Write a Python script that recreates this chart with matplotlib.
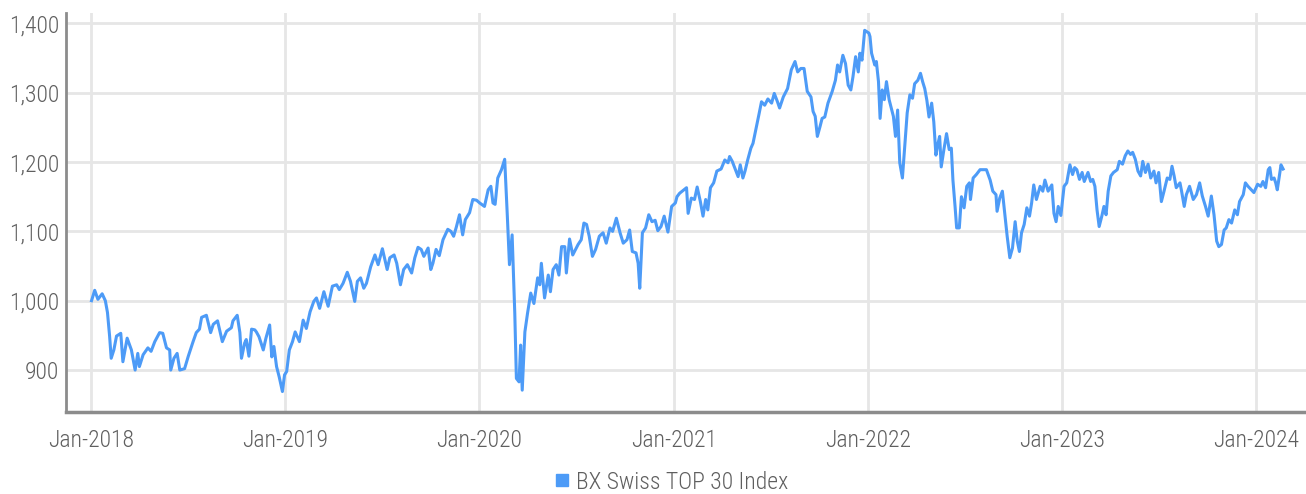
import matplotlib
matplotlib.use("Agg")
import matplotlib.pyplot as plt
import matplotlib.dates as mdates
from matplotlib.lines import Line2D
from matplotlib.ticker import FuncFormatter
import pandas as pd

plt.rcParams['font.family'] = ['Roboto Condensed', 'Fira Sans Condensed', 'DejaVu Sans']
plt.rcParams['font.weight'] = 300

series_name = "BX Swiss TOP 30 Index"

dates_2018 = ["2018-01-02", "2018-01-08", "2018-01-14", "2018-01-22", "2018-01-28", "2018-02-01", "2018-02-05",
              "2018-02-08", "2018-02-13", "2018-02-18", "2018-02-26", "2018-03-02", "2018-03-10", "2018-03-18",
              "2018-03-25", "2018-03-30", "2018-04-02", "2018-04-09", "2018-04-18", "2018-04-24", "2018-05-01",
              "2018-05-10", "2018-05-16", "2018-05-23", "2018-05-29", "2018-05-31", "2018-06-06", "2018-06-12",
              "2018-06-17", "2018-06-26", "2018-07-03", "2018-07-12", "2018-07-18", "2018-07-24", "2018-07-28",
              "2018-08-06", "2018-08-14", "2018-08-19", "2018-08-27", "2018-09-05", "2018-09-13", "2018-09-22",
              "2018-09-25", "2018-10-03", "2018-10-08", "2018-10-11", "2018-10-17", "2018-10-20", "2018-10-25",
              "2018-10-30", "2018-11-05", "2018-11-08", "2018-11-13", "2018-11-21", "2018-11-26", "2018-12-03",
              "2018-12-07", "2018-12-11", "2018-12-16", "2018-12-21", "2018-12-27", "2018-12-31"]
values_2018 = [1000, 1015, 1002, 1010, 1000, 983, 949,
               917, 929, 949, 953, 912, 946, 929,
               900, 924, 905, 922, 932, 927, 941,
               954, 953, 932, 929, 900, 917, 924,
               900, 902, 920, 941, 954, 959, 976,
               979, 954, 966, 971, 941, 956, 961,
               971, 979, 954, 917, 939, 944, 920,
               959, 958, 955, 948, 929, 946, 965,
               919, 934, 905, 890, 869, 893]

dates_2019 = ["2019-01-04", "2019-01-09", "2019-01-15", "2019-01-20", "2019-01-28", "2019-02-04", "2019-02-10",
              "2019-02-17", "2019-02-24", "2019-03-01", "2019-03-07", "2019-03-15", "2019-03-23", "2019-03-31",
              "2019-04-08", "2019-04-13", "2019-04-20", "2019-04-28", "2019-05-04", "2019-05-12", "2019-05-17",
              "2019-05-23", "2019-05-29", "2019-06-03", "2019-06-11", "2019-06-19", "2019-06-25", "2019-07-03",
              "2019-07-12", "2019-07-17", "2019-07-25", "2019-07-30", "2019-08-06", "2019-08-12", "2019-08-19",
              "2019-08-27", "2019-09-02", "2019-09-08", "2019-09-14", "2019-09-19", "2019-09-27", "2019-10-02",
              "2019-10-06", "2019-10-12", "2019-10-18", "2019-10-25", "2019-11-03", "2019-11-09", "2019-11-14",
              "2019-11-19", "2019-11-25", "2019-12-01", "2019-12-06", "2019-12-14", "2019-12-20", "2019-12-27"]
values_2019 = [898, 929, 941, 955, 941, 972, 960,
               984, 999, 1004, 989, 1013, 992, 1021,
               1023, 1016, 1025, 1041, 1028, 999, 1028,
               1033, 1018, 1025, 1049, 1066, 1052, 1075,
               1045, 1062, 1066, 1054, 1023, 1045, 1052,
               1040, 1062, 1077, 1074, 1064, 1076, 1045,
               1054, 1074, 1065, 1088, 1103, 1100, 1093,
               1106, 1124, 1095, 1117, 1127, 1146, 1145]

dates_2020 = ["2020-01-02", "2020-01-11", "2020-01-18", "2020-01-23", "2020-01-27", "2020-01-31", "2020-02-05",
              "2020-02-12", "2020-02-18", "2020-02-23", "2020-02-27", "2020-03-03", "2020-03-08", "2020-03-11",
              "2020-03-16", "2020-03-19", "2020-03-22", "2020-03-27", "2020-04-01", "2020-04-07", "2020-04-13",
              "2020-04-20", "2020-04-24", "2020-04-27", "2020-05-03", "2020-05-10", "2020-05-14", "2020-05-19",
              "2020-05-25", "2020-05-30", "2020-06-04", "2020-06-10", "2020-06-13", "2020-06-19", "2020-06-25",
              "2020-07-05", "2020-07-11", "2020-07-16", "2020-07-21", "2020-07-26", "2020-08-01", "2020-08-07",
              "2020-08-14", "2020-08-21", "2020-08-27", "2020-09-03", "2020-09-08", "2020-09-15", "2020-09-22",
              "2020-09-28", "2020-10-05", "2020-10-10", "2020-10-15", "2020-10-22", "2020-10-26", "2020-10-29",
              "2020-11-03", "2020-11-09", "2020-11-15", "2020-11-21", "2020-11-27", "2020-12-02", "2020-12-08",
              "2020-12-14", "2020-12-21", "2020-12-28"]
values_2020 = [1141, 1136, 1160, 1165, 1141, 1139, 1177,
               1189, 1204, 1122, 1052, 1095, 982, 888,
               883, 936, 871, 955, 982, 1011, 996,
               1033, 1023, 1054, 1004, 1037, 1013, 1045,
               1052, 1037, 1078, 1078, 1040, 1089, 1066,
               1081, 1088, 1112, 1110, 1093, 1064, 1074,
               1093, 1098, 1083, 1105, 1100, 1119, 1098,
               1083, 1088, 1102, 1071, 1069, 1054, 1018,
               1098, 1105, 1124, 1114, 1116, 1101, 1107,
               1122, 1099, 1136]

dates_2021 = ["2021-01-04", "2021-01-07", "2021-01-12", "2021-01-20", "2021-01-25", "2021-01-28", "2021-02-03",
              "2021-02-09", "2021-02-14", "2021-02-20", "2021-02-25", "2021-03-02", "2021-03-06", "2021-03-11",
              "2021-03-17", "2021-03-23", "2021-03-31", "2021-04-07", "2021-04-13", "2021-04-16", "2021-04-21",
              "2021-04-26", "2021-05-02", "2021-05-06", "2021-05-11", "2021-05-15", "2021-05-20", "2021-05-26",
              "2021-05-30", "2021-06-05", "2021-06-10", "2021-06-15", "2021-06-21", "2021-06-27", "2021-07-04",
              "2021-07-09", "2021-07-15", "2021-07-19", "2021-07-26", "2021-08-03", "2021-08-10", "2021-08-17",
              "2021-08-22", "2021-08-28", "2021-09-03", "2021-09-09", "2021-09-16", "2021-09-20", "2021-09-24",
              "2021-09-28", "2021-10-03", "2021-10-07", "2021-10-12", "2021-10-18", "2021-10-26", "2021-11-01",
              "2021-11-05", "2021-11-09", "2021-11-15", "2021-11-20", "2021-11-25", "2021-11-30", "2021-12-04",
              "2021-12-09", "2021-12-14", "2021-12-17", "2021-12-21", "2021-12-26"]
values_2021 = [1141, 1150, 1155, 1160, 1163, 1126, 1148,
               1146, 1164, 1143, 1122, 1146, 1131, 1163,
               1170, 1187, 1190, 1203, 1199, 1208, 1201,
               1191, 1179, 1196, 1177, 1187, 1203, 1220,
               1227, 1249, 1268, 1287, 1282, 1291, 1285,
               1299, 1287, 1278, 1294, 1306, 1333, 1345,
               1330, 1335, 1335, 1302, 1294, 1273, 1266,
               1237, 1251, 1263, 1265, 1285, 1302, 1318,
               1340, 1330, 1354, 1342, 1311, 1304, 1323,
               1352, 1330, 1357, 1347, 1390]

dates_2022 = ["2022-01-03", "2022-01-05", "2022-01-08", "2022-01-14", "2022-01-17", "2022-01-21", "2022-01-24",
              "2022-01-28", "2022-02-01", "2022-02-05", "2022-02-10", "2022-02-15", "2022-02-18", "2022-02-22",
              "2022-02-26", "2022-03-02", "2022-03-07", "2022-03-11", "2022-03-16", "2022-03-21", "2022-03-26",
              "2022-03-30", "2022-04-05", "2022-04-10", "2022-04-14", "2022-04-18", "2022-04-22", "2022-04-26",
              "2022-05-01", "2022-05-05", "2022-05-09", "2022-05-13", "2022-05-16", "2022-05-19", "2022-05-24",
              "2022-05-29", "2022-06-03", "2022-06-07", "2022-06-10", "2022-06-14", "2022-06-17", "2022-06-22",
              "2022-06-26", "2022-07-01", "2022-07-06", "2022-07-11", "2022-07-13", "2022-07-18", "2022-07-24",
              "2022-07-31", "2022-08-06", "2022-08-12", "2022-08-19", "2022-08-24", "2022-08-30", "2022-09-01",
              "2022-09-06", "2022-09-11", "2022-09-16", "2022-09-20", "2022-09-25", "2022-09-30", "2022-10-05",
              "2022-10-09", "2022-10-13", "2022-10-17", "2022-10-22", "2022-10-27", "2022-11-01", "2022-11-05",
              "2022-11-09", "2022-11-14", "2022-11-21", "2022-11-26", "2022-11-30", "2022-12-06", "2022-12-13",
              "2022-12-17", "2022-12-21", "2022-12-25", "2022-12-30"]
values_2022 = [1386, 1381, 1357, 1340, 1345, 1316, 1263,
               1304, 1290, 1316, 1290, 1275, 1266, 1237,
               1275, 1199, 1177, 1218, 1271, 1297, 1292,
               1313, 1318, 1328, 1316, 1306, 1289, 1265,
               1285, 1258, 1210, 1227, 1237, 1193, 1218,
               1241, 1218, 1220, 1174, 1136, 1105, 1105,
               1150, 1134, 1165, 1170, 1146, 1177, 1182,
               1189, 1189, 1189, 1174, 1158, 1153, 1129,
               1148, 1158, 1122, 1093, 1062, 1076, 1114,
               1086, 1071, 1098, 1110, 1134, 1122, 1141,
               1167, 1146, 1165, 1158, 1174, 1158, 1167,
               1126, 1114, 1136, 1123]

dates_2023 = ["2023-01-05", "2023-01-10", "2023-01-16", "2023-01-21", "2023-01-25", "2023-01-29", "2023-02-03",
              "2023-02-08", "2023-02-12", "2023-02-19", "2023-02-24", "2023-02-28", "2023-03-04", "2023-03-08",
              "2023-03-12", "2023-03-17", "2023-03-21", "2023-03-25", "2023-03-29", "2023-04-03", "2023-04-08",
              "2023-04-15", "2023-04-19", "2023-04-25", "2023-04-30", "2023-05-05", "2023-05-10", "2023-05-14",
              "2023-05-19", "2023-05-24", "2023-05-29", "2023-06-02", "2023-06-07", "2023-06-12", "2023-06-17",
              "2023-06-23", "2023-06-27", "2023-07-02", "2023-07-07", "2023-07-12", "2023-07-18", "2023-07-23",
              "2023-07-27", "2023-07-31", "2023-08-04", "2023-08-11", "2023-08-14", "2023-08-19", "2023-08-23",
              "2023-08-29", "2023-09-05", "2023-09-11", "2023-09-17", "2023-09-22", "2023-09-28", "2023-10-03",
              "2023-10-09", "2023-10-14", "2023-10-19", "2023-10-23", "2023-10-28", "2023-11-02", "2023-11-06",
              "2023-11-11", "2023-11-16", "2023-11-22", "2023-11-27", "2023-12-01", "2023-12-08", "2023-12-12",
              "2023-12-17", "2023-12-23", "2023-12-28"]
values_2023 = [1165, 1170, 1196, 1182, 1192, 1189, 1175,
               1185, 1172, 1185, 1172, 1175, 1165, 1131,
               1107, 1122, 1136, 1124, 1158, 1180, 1185,
               1189, 1201, 1197, 1209, 1216, 1211, 1214,
               1204, 1187, 1180, 1201, 1185, 1197, 1177,
               1187, 1170, 1185, 1143, 1158, 1177, 1175,
               1194, 1180, 1163, 1170, 1158, 1136, 1153,
               1165, 1146, 1153, 1170, 1151, 1136, 1122,
               1151, 1124, 1086, 1078, 1081, 1102, 1105,
               1117, 1112, 1131, 1124, 1143, 1153, 1170,
               1165, 1160, 1156]

dates_2024 = ["2024-01-04", "2024-01-10", "2024-01-14", "2024-01-19", "2024-01-24", "2024-01-27", "2024-01-30",
              "2024-02-04", "2024-02-07", "2024-02-10", "2024-02-13", "2024-02-17", "2024-02-21"]
values_2024 = [1168, 1165, 1172, 1163, 1189, 1192, 1175,
               1177, 1170, 1160, 1175, 1196, 1190]

y_ticks = [900, 1000, 1100, 1200, 1300, 1400]

dates = pd.to_datetime(dates_2018 + dates_2019 + dates_2020 + dates_2021 + dates_2022 + dates_2023 + dates_2024)
values = values_2018 + values_2019 + values_2020 + values_2021 + values_2022 + values_2023 + values_2024

line_color = "#4d9bf7"
text_color = "#5f5f5f"
W, H = 1306, 494

fig = plt.figure(figsize=(W / 100, H / 100), dpi=100)
ax = fig.add_axes([66 / W, 1 - 412 / H, 1 - 66 / W, (412 - 13) / H])

ax.plot(dates, values, color=line_color, linewidth=2.2, solid_joinstyle="round")

ax.set_xlim(pd.Timestamp("2017-11-15"), pd.Timestamp("2024-04-04"))
ax.set_ylim(839.5, 1415)
ax.set_yticks(y_ticks)
ax.yaxis.set_major_formatter(FuncFormatter(lambda v, p: f"{v:,.0f}"))
ax.xaxis.set_major_locator(mdates.YearLocator())
ax.xaxis.set_major_formatter(mdates.DateFormatter("%b-%Y"))

ax.grid(True, color="#e6e6e6", linewidth=2)
ax.set_axisbelow(True)
for s in ("top", "right"):
    ax.spines[s].set_visible(False)
ax.spines["left"].set_color("#8c8c8c")
ax.spines["left"].set_linewidth(2)
ax.spines["bottom"].set_color("#8c8c8c")
ax.spines["bottom"].set_linewidth(2.5)

ax.tick_params(axis="both", length=0, labelsize=17, labelcolor=text_color)
ax.tick_params(axis="x", pad=12)
ax.tick_params(axis="y", pad=5)

handle = Line2D([], [], marker="s", color=line_color, linestyle="None", markersize=8)
fig.legend([handle], [series_name], loc="center", bbox_to_anchor=(669 / W, 1 - 482 / H),
           frameon=False, fontsize=17, handletextpad=0.1, labelcolor=text_color,
           handlelength=1.0)

fig.savefig("out.png", dpi=100)
